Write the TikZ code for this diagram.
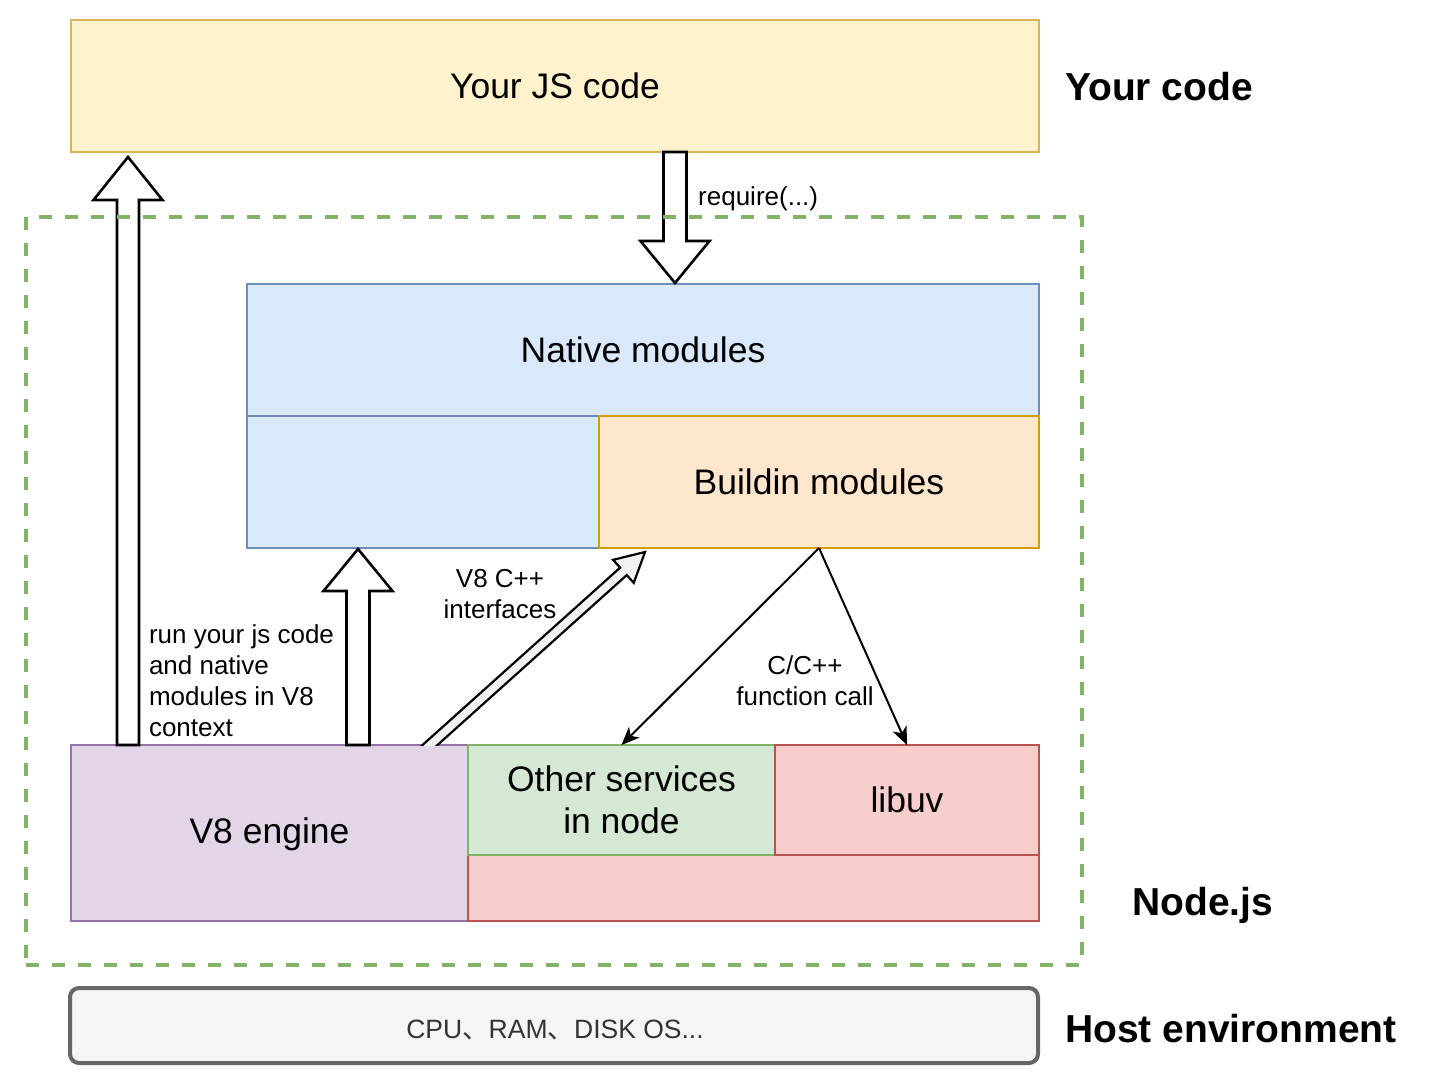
\documentclass[tikz,border=0pt]{standalone}
\usepackage{fontspec}
\setmainfont{Liberation Sans}
\newfontfamily\cjk{Noto Sans CJK SC}
\usetikzlibrary{calc,arrows.meta}
\definecolor{jsfill}{HTML}{FFF2CC}\definecolor{jsdraw}{HTML}{D6B656}
\definecolor{bluefill}{HTML}{DAE8FC}\definecolor{bluedraw}{HTML}{6C8EBF}
\definecolor{orfill}{HTML}{FFE6CC}\definecolor{ordraw}{HTML}{D79B00}
\definecolor{purfill}{HTML}{E1D5E7}\definecolor{purdraw}{HTML}{9673A6}
\definecolor{grfill}{HTML}{D5E8D4}\definecolor{grdraw}{HTML}{82B366}
\definecolor{redfill}{HTML}{F8CECC}\definecolor{reddraw}{HTML}{B85450}
\definecolor{hostfill}{HTML}{F5F5F5}\definecolor{hostdraw}{HTML}{666666}
\definecolor{hosttext}{HTML}{333333}
\definecolor{arrfill}{HTML}{F2F2F2}
\newcommand\blockarrow[6]{%
  \coordinate (ba-H) at ($(#3)!#6!(#2)$);
  \draw[#1] ($(#2)!#4!90:(#3)$) -- ($(ba-H)!#4!90:(#3)$) -- ($(ba-H)!#5!90:(#3)$) -- (#3)
    -- ($(ba-H)!#5!-90:(#3)$) -- ($(ba-H)!#4!-90:(#3)$) -- ($(#2)!#4!-90:(#3)$) -- cycle;
}
\tikzset{
  box/.style={draw, line width=2pt, inner sep=0pt, outer sep=0pt, align=center,
    font=\fontsize{35.5}{42}\selectfont},
  lbl/.style={inner sep=0pt, font=\fontsize{26}{31}\selectfont},
  side/.style={inner sep=0pt, font=\fontsize{39}{46}\selectfont\bfseries},
  blk/.style={draw=black, line width=2.6pt, fill=white, line join=miter},
  thinarr/.style={draw=black, line width=2pt, -{Stealth[length=18pt,width=15pt,inset=5pt]}}
}
\begin{document}
\begin{tikzpicture}[x=1pt,y=-1pt]
\useasboundingbox (0,0) rectangle (1430,1090);
% boxes
\node[box, fill=jsfill, draw=jsdraw, minimum width=968pt, minimum height=132pt] (js) at (555,86) {Your JS code};
\node[box, fill=bluefill, draw=bluedraw, minimum width=792pt, minimum height=132pt] (native) at (643,350) {Native modules};
\node[box, fill=bluefill, draw=bluedraw, minimum width=352pt, minimum height=132pt] (blueleft) at (423,482) {};
\node[box, fill=orfill, draw=ordraw, minimum width=440pt, minimum height=132pt] (buildin) at (819,482) {Buildin modules};
\node[box, fill=purfill, draw=purdraw, minimum width=397pt, minimum height=176pt] (v8) at (269.5,833) {};
\node[box, draw=none, fill=none] (v8txt) at (269.5,834) {V8 engine};
\node[box, fill=redfill, draw=reddraw, minimum width=571pt, minimum height=66pt] (pinkbot) at (753.5,888) {};
\node[box, fill=grfill, draw=grdraw, minimum width=307pt, minimum height=110pt] (other) at (621.5,800) {Other services\\in node};
\node[box, fill=redfill, draw=reddraw, minimum width=264pt, minimum height=110pt] (libuv) at (907,800) {libuv};
\node[box, fill=hostfill, draw=hostdraw, line width=4pt, rounded corners=9pt, minimum width=968pt, minimum height=75pt] (host) at (554,1025.5) {};
\node[inner sep=0pt, text=hosttext, font=\fontsize{26.5}{31}\selectfont, anchor=base] (hosttxt) at (555,1038) {CPU{\cjk 、}RAM{\cjk 、}DISK OS...};
% block arrows
\coordinate (a1s) at ([xshift=57pt]v8.north west);
\coordinate (a1e) at ([xshift=57pt,yshift=-5pt]js.south west);
\blockarrow{blk}{a1s}{a1e}{11pt}{34.5pt}{43pt}
\coordinate (a2s) at ([xshift=120pt]js.south);
\coordinate (a2e) at ([xshift=32pt,yshift=1pt]native.north);
\blockarrow{blk}{a2s}{a2e}{11.5pt}{34.5pt}{42pt}
\coordinate (a3s) at ([xshift=287pt]v8.north west);
\coordinate (a3e) at ([xshift=-65pt,yshift=-1pt]blueleft.south);
\blockarrow{blk}{a3s}{a3e}{11.5pt}{34.5pt}{42pt}
\coordinate (a4e) at ([xshift=46pt,yshift=-4pt]buildin.south west);
\coordinate (a4s0) at ([xshift=-38pt]v8.north east);
\coordinate (a4s) at ($(a4e)!1.08!(a4s0)$);
\begin{scope}
\clip (0,0) rectangle (1430,745);
\blockarrow{blk, fill=arrfill, line width=2.2pt}{a4s}{a4e}{5pt}{15.5pt}{29pt}
\end{scope}
% thin arrows
\draw[thinarr] (buildin.south) -- (other.north);
\draw[thinarr] (buildin.south) -- (libuv.north);
% node.js container
\node[draw=grdraw, line width=4pt, dash pattern=on 13pt off 13pt, minimum width=1056pt, minimum height=748pt,
  inner sep=0pt] (nodejs) at (554,591) {};
% labels
\node[lbl, anchor=base west] (req) at (698,205) {require(...)};
\node[lbl, align=left] (runlbl) at (241.5,681) {run your js code\\and native\\modules in V8\\context};
\node[lbl, align=center] (v8lbl) at (500,594) {V8 C++\\interfaces};
\node[lbl, align=center] (cclbl) at (805,681) {C/C++\\function call};
% side labels
\node[side, anchor=base west] (yourcode) at (1065,100) {Your code};
\node[side, anchor=base west] (nodejslbl) at (1132,915) {Node.js};
\node[side, anchor=base west] (hostlbl) at (1065,1042) {Host environment};
\end{tikzpicture}
\end{document}
